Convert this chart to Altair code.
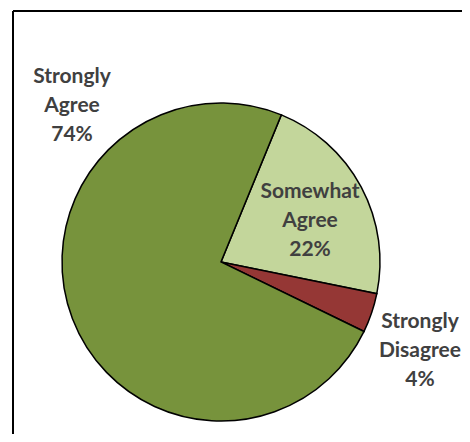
import altair as alt
import pandas as pd
import math

# data (drawing order: clockwise starting near 12 o'clock)
categories = ["Somewhat Agree", "Strongly Disagree", "Strongly Agree"]
label_lines = ["Somewhat\nAgree", "Strongly\nDisagree", "Strongly\nAgree"]
percents = [22, 4, 74]
colors = ["#C3D69B", "#953735", "#77933C"]

df = pd.DataFrame({
    "category": categories,
    "pct": percents,
    "order": list(range(len(categories))),
    "label": [f"{l}\n{p}%" for l, p in zip(label_lines, percents)],
})

W, H = 449, 423
CX, CY, R = 208, 251, 159
start = math.radians(22.3)

# label anchor positions (style, not data): centre of first line
label_pos = {
    "Strongly Agree": (59, 66),
    "Somewhat Agree": (297, 181),
    "Strongly Disagree": (407, 311),
}

base = alt.Chart(df)

pie = base.mark_arc(outerRadius=R, stroke="black", strokeWidth=1.5).encode(
    theta=alt.Theta("pct:Q", stack=True, scale=alt.Scale(range=[start, start + 2 * math.pi])),
    color=alt.Color("category:N", scale=alt.Scale(domain=categories, range=colors), legend=None),
    order=alt.Order("order:Q"),
    x=alt.value(CX),
    y=alt.value(CY),
)

texts = []
for cat, (tx, ty) in label_pos.items():
    texts.append(
        base.transform_filter(alt.datum.category == cat).mark_text(
            font="Lato", fontWeight="bold", fontSize=21, color="#404040",
            lineBreak="\n", lineHeight=29, align="center", baseline="middle",
        ).encode(text="label:N", x=alt.value(tx), y=alt.value(ty))
    )

frame_left = alt.Chart(df).mark_rule(color="black", strokeWidth=2).encode(
    x=alt.value(0), y=alt.value(0), y2=alt.value(H)
)
frame_top = alt.Chart(df).mark_rule(color="black", strokeWidth=2).encode(
    x=alt.value(0), x2=alt.value(W), y=alt.value(0)
)

chart = alt.layer(pie, *texts, frame_left, frame_top).properties(
    width=W, height=H,
    padding={"left": 5, "top": 3, "right": 0, "bottom": 0},
    autosize=alt.AutoSizeParams(type="none"),
).configure_view(stroke=None)

chart.save("out.html", embed_options={"renderer": "svg", "actions": False})
